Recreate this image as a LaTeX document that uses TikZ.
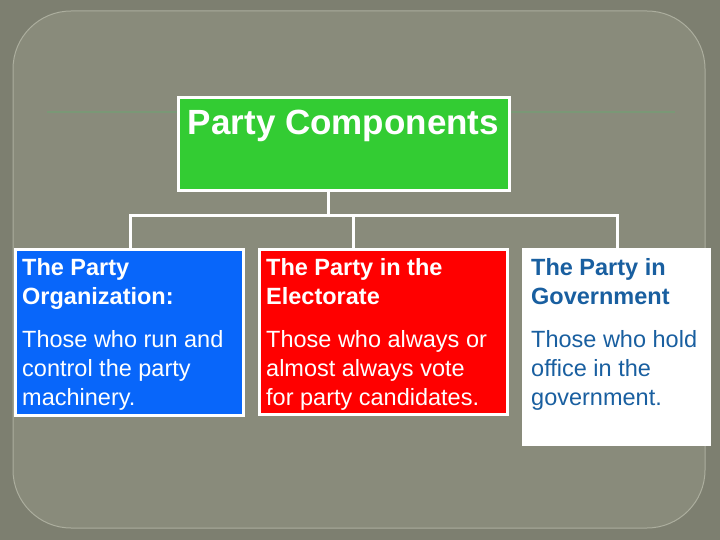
\documentclass[tikz,border=0pt]{standalone}
\usepackage{fontspec}
\setmainfont{Liberation Sans}
\definecolor{outerbg}{RGB}{125,127,112}
\definecolor{innerbg}{RGB}{137,139,123}
\definecolor{innerline}{RGB}{172,174,158}
\definecolor{faintgreen}{RGB}{122,152,118}
\definecolor{titlegreen}{RGB}{51,204,51}
\definecolor{orgblue}{RGB}{8,102,250}
\definecolor{elecred}{RGB}{255,0,0}
\definecolor{govtext}{RGB}{25,95,160}
\tikzset{
  box/.style={rectangle, inner sep=0pt, outer sep=0pt, line width=3pt},
  conn/.style={draw=white, line width=3pt},
  txt/.style={inner sep=0pt, anchor=base west, font=\fontsize{23.5}{29}\selectfont},
  hd/.style={txt, font=\fontsize{23.5}{29}\selectfont\bfseries},
}
\begin{document}
\begin{tikzpicture}[x=1pt,y=-1pt]
\useasboundingbox (0,0) rectangle (720,540);
\fill[outerbg] (0,0) rectangle (720,540);
\draw[innerline, fill=innerbg, line width=1pt, rounded corners=58pt] (13,11) rectangle (705,528);
\draw[faintgreen, line width=2pt] (47,112) -- (675,112);

% boxes
\node[box, draw=white, fill=titlegreen, minimum width=331pt, minimum height=93pt] (top) at (344,144) {};
\node[box, draw=white, fill=orgblue, minimum width=228pt, minimum height=166pt] (org) at (129.5,332.5) {};
\node[box, draw=white, fill=elecred, minimum width=248pt, minimum height=165pt] (elec) at (383.5,332) {};
\node[box, fill=white, minimum width=189pt, minimum height=198pt] (gov) at (616.5,347) {};

% title
\node[inner sep=0pt, anchor=base, text=white, font=\fontsize{35}{42}\selectfont\bfseries] (title) at (343.5,135) {Party Components};

% connectors
\coordinate (j0) at (328,216);
\coordinate (jl) at (130,216);
\coordinate (jm) at (353,216);
\coordinate (jr) at (617,216);
\draw[conn] (top.south -| j0) -- (j0);
\draw[conn, line cap=rect] (jl) -- (jr);
\draw[conn] (jl) -- (org.north -| jl);
\draw[conn] (jm) -- (elec.north -| jm);
\draw[conn] (jr) -- (gov.north -| jr);

% blue text
\node[hd, text=white] (o1) at (22,275) {The Party};
\node[hd, text=white] (o2) at (22,304) {Organization:};
\node[txt, text=white] (o3) at (22,347) {Those who run and};
\node[txt, text=white] (o4) at (22,376) {control the party};
\node[txt, text=white] (o5) at (22,405) {machinery.};

% red text
\node[hd, text=white] (e1) at (266,275) {The Party in the};
\node[hd, text=white] (e2) at (266,304) {Electorate};
\node[txt, text=white] (e3) at (266,347) {Those who always or};
\node[txt, text=white] (e4) at (266,376) {almost always vote};
\node[txt, text=white] (e5) at (266,405) {for party candidates.};

% white box text
\node[hd, text=govtext] (g1) at (531,275) {The Party in};
\node[hd, text=govtext] (g2) at (531,304) {Government};
\node[txt, text=govtext] (g3) at (531,347) {Those who hold};
\node[txt, text=govtext] (g4) at (531,376) {office in the};
\node[txt, text=govtext] (g5) at (531,405) {government.};
\end{tikzpicture}
\end{document}
